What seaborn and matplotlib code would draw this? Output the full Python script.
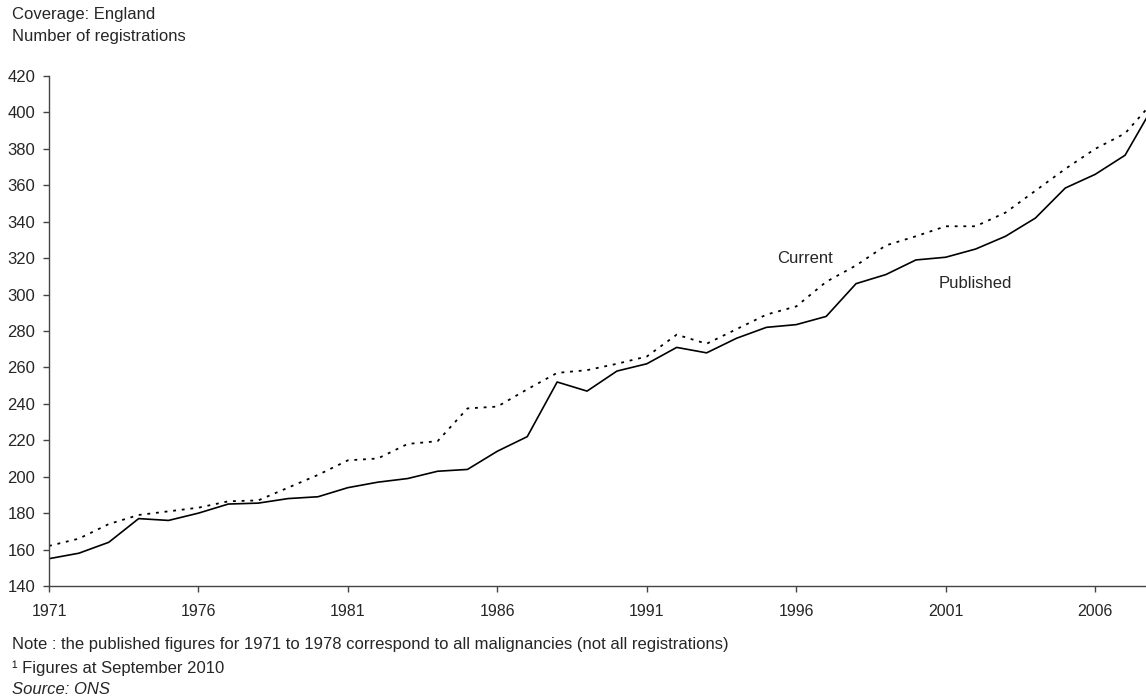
import numpy as np
import pandas as pd
import seaborn as sns
import matplotlib
matplotlib.use("Agg")
import matplotlib.pyplot as plt

years = list(range(1971, 2009))
published = [155, 158, 164, 177, 176, 180, 185, 185.5, 188, 189,
             194, 197, 199, 203, 204, 214, 222, 252, 247, 258,
             262, 271, 268, 276, 282, 283.5, 288, 306, 311, 319,
             320.5, 325, 332, 342, 358.5, 366, 376.5, 405]
current = [162, 166, 174, 179, 181, 183, 186.5, 187, 194, 201,
           209, 210, 218, 219.5, 237.5, 238.5, 248, 257, 258.5, 262,
           266, 278, 273, 281, 289, 293.5, 307, 316, 327, 332,
           337.5, 337.5, 345, 357, 369, 380, 388.5, 407]
year_ticks = [1971, 1976, 1981, 1986, 1991, 1996, 2001, 2006]
y_ticks = list(range(140, 421, 20))

df = pd.DataFrame({"Year": years, "Published": published, "Current": current})

sns.set_theme(style="white")
plt.rcParams['font.family'] = ['Liberation Sans', 'DejaVu Sans']

fig = plt.figure(figsize=(11.46, 6.98), dpi=100)
ax = fig.add_axes([49 / 1146, 1 - 586 / 698, 1 - 49 / 1146, (586 - 76) / 698])

sns.lineplot(data=df, x="Year", y="Published", ax=ax, color="black", linewidth=1.2)
sns.lineplot(data=df, x="Year", y="Current", ax=ax, color="black", linewidth=1.3,
             linestyle=(0, (1.6, 3.2)))

ax.set_xlim(1971, 2007.7)
ax.set_ylim(140, 420)
ax.set_xticks(year_ticks)
ax.set_yticks(y_ticks)
ax.set_xlabel("")
ax.set_ylabel("")

# Despine
for s in ["top", "right"]:
    ax.spines[s].set_visible(False)
for s in ["left", "bottom"]:
    ax.spines[s].set_color("#444444")
    ax.spines[s].set_linewidth(1.0)

ax.tick_params(axis="y", direction="out", length=4, width=1, color="#444444",
               labelsize=12, pad=6, left=True)
ax.tick_params(axis="x", direction="out", length=4, width=1, color="#444444",
               labelsize=11.5, pad=9, bottom=True)

ax.text(1996.28, 320, "Current", fontsize=12, ha="center", va="center")
ax.text(2002.0, 306.2, "Published", fontsize=12, ha="center", va="center")

fig.text(12 / 1146, 1 - 14 / 698, "Coverage: England", fontsize=12, va="center")
fig.text(12 / 1146, 1 - 37 / 698, "Number of registrations", fontsize=12, va="center")

fig.text(12 / 1146, 1 - 645 / 698,
         "Note : the published figures for 1971 to 1978 correspond to all malignancies (not all registrations)",
         fontsize=12, va="center")
fig.text(12 / 1146, 1 - 668 / 698, "\u00b9 Figures at September 2010", fontsize=12, va="center")
fig.text(12 / 1146, 1 - 689 / 698, "Source: ONS", fontsize=12, va="center", style="italic")

fig.savefig("out.png", dpi=100)
